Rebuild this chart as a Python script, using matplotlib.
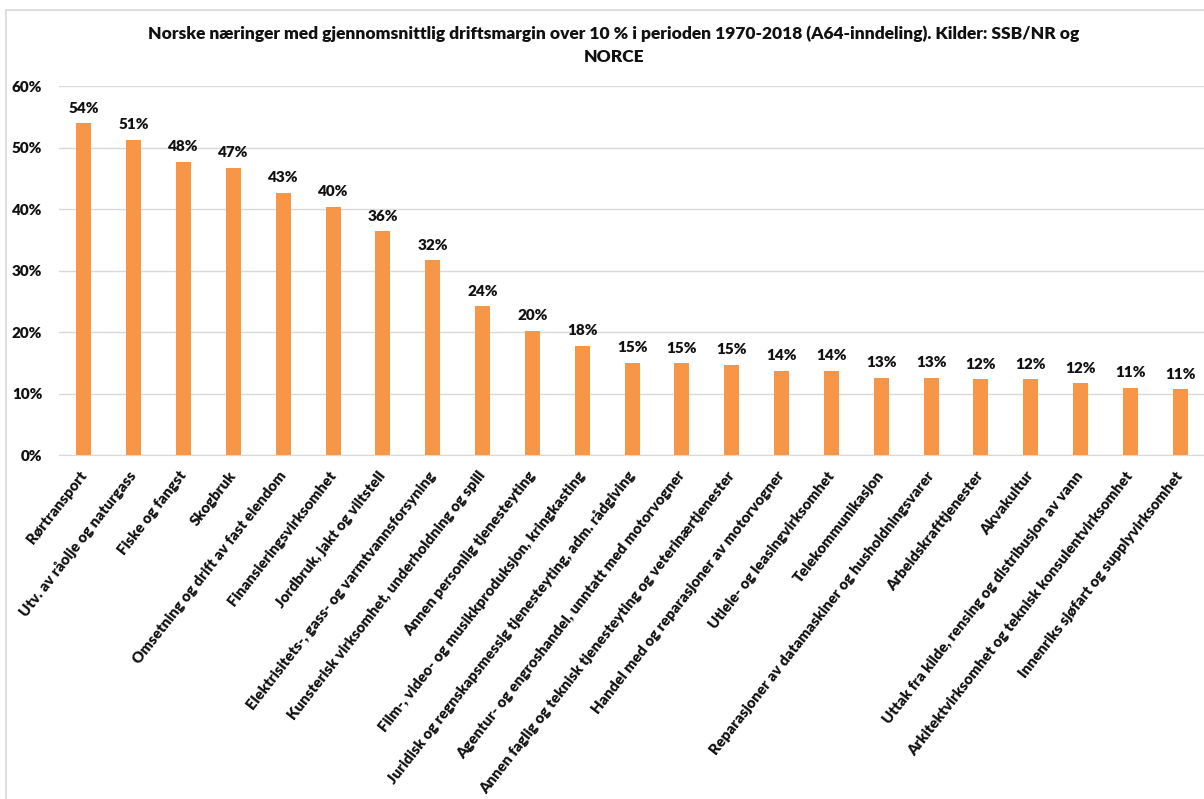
import matplotlib
matplotlib.use("Agg")
import matplotlib.pyplot as plt
from matplotlib.lines import Line2D
from matplotlib.ticker import FuncFormatter, MultipleLocator

plt.rcParams["font.family"] = ["Lato", "DejaVu Sans"]

TITLE = ("Norske næringer med gjennomsnittlig driftsmargin over 10 % i perioden "
         "1970-2018 (A64-inndeling). Kilder: SSB/NR og\nNORCE")

industries = [
    "Rørtransport",
    "Utv. av råolje og naturgass",
    "Fiske og fangst",
    "Skogbruk",
    "Omsetning og drift av fast eiendom",
    "Finansieringsvirksomhet",
    "Jordbruk, jakt og viltstell",
    "Elektrisitets-, gass- og varmtvannsforsyning",
    "Kunsterisk virksomhet, underholdning og spill",
    "Annen personlig tjenesteyting",
    "Film-, video- og musikkproduksjon, kringkasting",
    "Juridisk og regnskapsmessig tjenesteyting, adm. rådgiving",
    "Agentur- og engroshandel, unntatt med motorvogner",
    "Annen faglig og teknisk tjenesteyting og veterinærtjenester",
    "Handel med og reparasjoner av motorvogner",
    "Utleie- og leasingvirksomhet",
    "Telekommunikasjon",
    "Reparasjoner av datamaskiner og husholdningsvarer",
    "Arbeidskrafttjenester",
    "Akvakultur",
    "Uttak fra kilde, rensing og distribusjon av vann",
    "Arkitektvirksomhet og teknisk konsulentvirksomhet",
    "Innenriks sjøfart og supplyvirksomhet",
]
margin_pct = [54.0, 51.3, 47.7, 46.7, 42.7, 40.4, 36.4, 31.7, 24.2, 20.2, 17.8,
              15.05, 14.9, 14.7, 13.7, 13.7, 12.6, 12.6, 12.35, 12.35, 11.7, 10.9, 10.7]

BAR_COLOR = "#F79646"
GRID_COLOR = "#d9d9d9"
TEXT_COLOR = "#111111"
WEIGHT = "heavy"

fig = plt.figure(figsize=(12.04, 7.99), dpi=100)
ax = fig.add_axes([0.049, 0.4305, 0.952, 0.4615])

x = range(len(industries))
ax.bar(x, margin_pct, width=0.3, color=BAR_COLOR, zorder=3)
for xi, v in zip(x, margin_pct):
    ax.text(xi, v + 1.4, f"{v:.0f}%", ha="center", va="bottom",
            fontsize=11, fontweight=WEIGHT, color=TEXT_COLOR)

ax.set_xlim(-0.5, len(industries) - 0.5)
ax.set_ylim(0, 60)
ax.yaxis.set_major_locator(MultipleLocator(10))
ax.yaxis.set_major_formatter(FuncFormatter(lambda v, _: f"{v:.0f}%"))
ax.grid(axis="y", color=GRID_COLOR, lw=1, zorder=0)
for side in ("top", "right", "left"):
    ax.spines[side].set_visible(False)
ax.spines["bottom"].set_color(GRID_COLOR)
ax.tick_params(axis="both", length=0, colors=TEXT_COLOR)
ax.tick_params(axis="y", pad=12)
for lbl in ax.get_yticklabels():
    lbl.set_fontsize(11)
    lbl.set_fontweight(WEIGHT)

ax.set_xticks(list(x))
ax.set_xticklabels(industries, rotation=52, ha="right", va="center",
                   rotation_mode="anchor", fontsize=10.8, fontweight=WEIGHT,
                   color=TEXT_COLOR)
ax.tick_params(axis="x", pad=13)

fig.text(0.51, 0.968, TITLE, ha="center", va="top", fontsize=12.5,
         fontweight=WEIGHT, color=TEXT_COLOR, linespacing=1.55)

# chart-area frame (left and top edges)
fig.add_artist(Line2D([0.005, 0.005], [0.0, 0.987], color=GRID_COLOR, lw=1.2))
fig.add_artist(Line2D([0.005, 1.0], [0.987, 0.987], color=GRID_COLOR, lw=1.2))

fig.savefig("out.png", dpi=100)
